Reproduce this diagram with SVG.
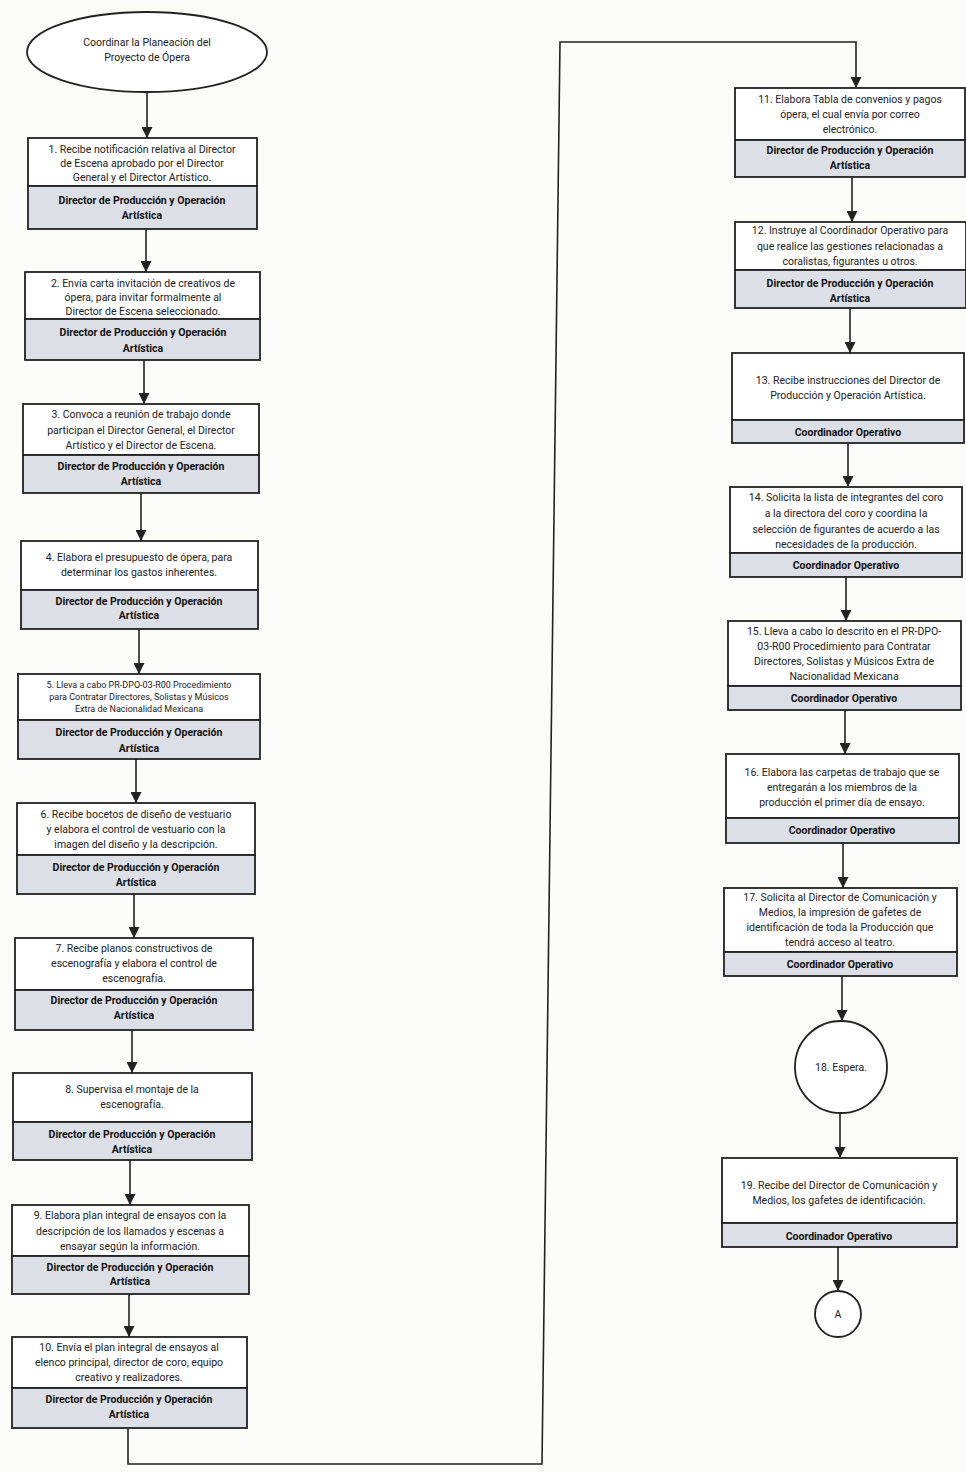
<svg xmlns="http://www.w3.org/2000/svg" width="966" height="1472" viewBox="0 0 966 1472">
<defs>
<marker id="arr" viewBox="0 0 10 10" refX="10" refY="5" markerWidth="12" markerHeight="11" markerUnits="userSpaceOnUse" orient="auto"><path d="M0,0 L10,5 L0,10 z" fill="#222"/></marker>
<style>
.bg{fill:#fbfbfa}
.box{fill:#fff;stroke:#222;stroke-width:1.8}
.role{fill:#dcdfe5;stroke:#222;stroke-width:1.8}
.t{font-family:Roboto,"Liberation Sans",sans-serif;font-size:10.5px;fill:#222;text-anchor:middle}
.b{font-family:Roboto,"Liberation Sans",sans-serif;font-size:10.5px;font-weight:bold;fill:#111;text-anchor:middle}
.c{fill:none;stroke:#222;stroke-width:1.6}
</style>
</defs>
<rect class="bg" x="0" y="0" width="966" height="1472"/>
<g id="connectors">
<path class="c" d="M147,92 V138" marker-end="url(#arr)"/>
<path class="c" d="M146,229 V272" marker-end="url(#arr)"/>
<path class="c" d="M144,360 V404" marker-end="url(#arr)"/>
<path class="c" d="M141,493 V541" marker-end="url(#arr)"/>
<path class="c" d="M139,629 V674" marker-end="url(#arr)"/>
<path class="c" d="M136,759 V803" marker-end="url(#arr)"/>
<path class="c" d="M134,894 V938" marker-end="url(#arr)"/>
<path class="c" d="M132,1030 V1073" marker-end="url(#arr)"/>
<path class="c" d="M130,1160 V1205" marker-end="url(#arr)"/>
<path class="c" d="M129,1294 V1337" marker-end="url(#arr)"/>
<path class="c" d="M128,1428 V1464 H542 L560,42 H856 V88" marker-end="url(#arr)"/>
<path class="c" d="M852,177 V222" marker-end="url(#arr)"/>
<path class="c" d="M850,308 V353" marker-end="url(#arr)"/>
<path class="c" d="M848,443 V487" marker-end="url(#arr)"/>
<path class="c" d="M846,577 V621" marker-end="url(#arr)"/>
<path class="c" d="M845,710 V754" marker-end="url(#arr)"/>
<path class="c" d="M843,843 V888" marker-end="url(#arr)"/>
<path class="c" d="M842,976 V1021" marker-end="url(#arr)"/>
<path class="c" d="M840,1113 V1158" marker-end="url(#arr)"/>
<path class="c" d="M838,1247 V1291" marker-end="url(#arr)"/>
</g>
<g id="start">
<ellipse cx="147" cy="52" rx="120" ry="40" fill="#fff" stroke="#222" stroke-width="1.8"/>
<text class="t" x="147" y="46">Coordinar la Planeación del</text>
<text class="t" x="147" y="61">Proyecto de Ópera</text>
</g>
<g id="n1">
<rect class="box" x="28" y="138" width="229" height="48"/>
<rect class="role" x="28" y="186" width="229" height="43"/>
<text class="t" x="142" y="153">1. Recibe notificación relativa al Director</text>
<text class="t" x="142" y="167">de Escena aprobado por el Director</text>
<text class="t" x="142" y="181">General y el Director Artístico.</text>
<text class="b" x="142" y="204">Director de Producción y Operación</text>
<text class="b" x="142" y="219">Artística</text>
</g>
<g id="n2">
<rect class="box" x="25" y="272" width="235" height="47"/>
<rect class="role" x="25" y="319" width="235" height="41"/>
<text class="t" x="143" y="287">2. Envía carta invitación de creativos de</text>
<text class="t" x="143" y="301">ópera, para invitar formalmente al</text>
<text class="t" x="143" y="315">Director de Escena seleccionado.</text>
<text class="b" x="143" y="336">Director de Producción y Operación</text>
<text class="b" x="143" y="352">Artística</text>
</g>
<g id="n3">
<rect class="box" x="23" y="404" width="236" height="51"/>
<rect class="role" x="23" y="455" width="236" height="38"/>
<text class="t" x="141" y="418">3. Convoca a reunión de trabajo donde</text>
<text class="t" x="141" y="434">participan el Director General, el Director</text>
<text class="t" x="141" y="449">Artístico y el Director de Escena.</text>
<text class="b" x="141" y="470">Director de Producción y Operación</text>
<text class="b" x="141" y="485">Artística</text>
</g>
<g id="n4">
<rect class="box" x="21" y="541" width="237" height="49"/>
<rect class="role" x="21" y="590" width="237" height="39"/>
<text class="t" x="139" y="561">4. Elabora el presupuesto de ópera, para</text>
<text class="t" x="139" y="576">determinar los gastos inherentes.</text>
<text class="b" x="139" y="605">Director de Producción y Operación</text>
<text class="b" x="139" y="619">Artística</text>
</g>
<g id="n5">
<rect class="box" x="18" y="674" width="242" height="46"/>
<rect class="role" x="18" y="720" width="242" height="39"/>
<text class="t" x="139" y="688" style="font-size:9px">5. Lleva a cabo PR-DPO-03-R00 Procedimiento</text>
<text class="t" x="139" y="700" style="font-size:9px">para Contratar Directores, Solistas y Músicos</text>
<text class="t" x="139" y="712" style="font-size:9px">Extra de Nacionalidad Mexicana</text>
<text class="b" x="139" y="736">Director de Producción y Operación</text>
<text class="b" x="139" y="752">Artística</text>
</g>
<g id="n6">
<rect class="box" x="17" y="803" width="238" height="52"/>
<rect class="role" x="17" y="855" width="238" height="39"/>
<text class="t" x="136" y="818">6. Recibe bocetos de diseño de vestuario</text>
<text class="t" x="136" y="833">y elabora el control de vestuario con la</text>
<text class="t" x="136" y="848">imagen del diseño y la descripción.</text>
<text class="b" x="136" y="871">Director de Producción y Operación</text>
<text class="b" x="136" y="886">Artística</text>
</g>
<g id="n7">
<rect class="box" x="15" y="938" width="238" height="52"/>
<rect class="role" x="15" y="990" width="238" height="40"/>
<text class="t" x="134" y="952">7. Recibe planos constructivos de</text>
<text class="t" x="134" y="967">escenografía y elabora el control de</text>
<text class="t" x="134" y="982">escenografía.</text>
<text class="b" x="134" y="1004">Director de Producción y Operación</text>
<text class="b" x="134" y="1019">Artística</text>
</g>
<g id="n8">
<rect class="box" x="13" y="1073" width="239" height="49"/>
<rect class="role" x="13" y="1122" width="239" height="38"/>
<text class="t" x="132" y="1093">8. Supervisa el montaje de la</text>
<text class="t" x="132" y="1108">escenografía.</text>
<text class="b" x="132" y="1138">Director de Producción y Operación</text>
<text class="b" x="132" y="1153">Artística</text>
</g>
<g id="n9">
<rect class="box" x="12" y="1205" width="237" height="51"/>
<rect class="role" x="12" y="1256" width="237" height="38"/>
<text class="t" x="130" y="1219">9. Elabora plan integral de ensayos con la</text>
<text class="t" x="130" y="1235">descripción de los llamados y escenas a</text>
<text class="t" x="130" y="1250">ensayar según la información.</text>
<text class="b" x="130" y="1271">Director de Producción y Operación</text>
<text class="b" x="130" y="1285">Artística</text>
</g>
<g id="n10">
<rect class="box" x="12" y="1337" width="235" height="51"/>
<rect class="role" x="12" y="1388" width="235" height="40"/>
<text class="t" x="129" y="1351">10. Envía el plan integral de ensayos al</text>
<text class="t" x="129" y="1366">elenco principal, director de coro, equipo</text>
<text class="t" x="129" y="1381">creativo y realizadores.</text>
<text class="b" x="129" y="1403">Director de Producción y Operación</text>
<text class="b" x="129" y="1418">Artística</text>
</g>
<g id="n11">
<rect class="box" x="735" y="88" width="230" height="52"/>
<rect class="role" x="735" y="140" width="230" height="37"/>
<text class="t" x="850" y="103">11. Elabora Tabla de convenios y pagos</text>
<text class="t" x="850" y="118">ópera, el cual envía por correo</text>
<text class="t" x="850" y="133">electrónico.</text>
<text class="b" x="850" y="154">Director de Producción y Operación</text>
<text class="b" x="850" y="169">Artística</text>
</g>
<g id="n12">
<rect class="box" x="735" y="222" width="231" height="48"/>
<rect class="role" x="735" y="270" width="231" height="38"/>
<text class="t" x="850" y="234">12. Instruye al Coordinador Operativo para</text>
<text class="t" x="850" y="250">que realice las gestiones relacionadas a</text>
<text class="t" x="850" y="265">coralistas, figurantes u otros.</text>
<text class="b" x="850" y="287">Director de Producción y Operación</text>
<text class="b" x="850" y="302">Artística</text>
</g>
<g id="n13">
<rect class="box" x="732" y="353" width="232" height="67"/>
<rect class="role" x="732" y="420" width="232" height="23"/>
<text class="t" x="848" y="384">13. Recibe instrucciones del Director de</text>
<text class="t" x="848" y="399">Producción y Operación Artística.</text>
<text class="b" x="848" y="436">Coordinador Operativo</text>
</g>
<g id="n14">
<rect class="box" x="730" y="487" width="232" height="66"/>
<rect class="role" x="730" y="553" width="232" height="24"/>
<text class="t" x="846" y="501">14. Solicita la lista de integrantes del coro</text>
<text class="t" x="846" y="517">a la directora del coro y coordina la</text>
<text class="t" x="846" y="533">selección de figurantes de acuerdo a las</text>
<text class="t" x="846" y="548">necesidades de la producción.</text>
<text class="b" x="846" y="569">Coordinador Operativo</text>
</g>
<g id="n15">
<rect class="box" x="728" y="621" width="233" height="65"/>
<rect class="role" x="728" y="686" width="233" height="24"/>
<text class="t" x="844" y="635">15. Lleva a cabo lo descrito en el PR-DPO-</text>
<text class="t" x="844" y="650">03-R00 Procedimiento para Contratar</text>
<text class="t" x="844" y="665">Directores, Solistas y Músicos Extra de</text>
<text class="t" x="844" y="680">Nacionalidad Mexicana</text>
<text class="b" x="844" y="702">Coordinador Operativo</text>
</g>
<g id="n16">
<rect class="box" x="726" y="754" width="233" height="64"/>
<rect class="role" x="726" y="818" width="233" height="25"/>
<text class="t" x="842" y="776">16. Elabora las carpetas de trabajo que se</text>
<text class="t" x="842" y="791">entregarán a los miembros de la</text>
<text class="t" x="842" y="806">producción el primer día de ensayo.</text>
<text class="b" x="842" y="834">Coordinador Operativo</text>
</g>
<g id="n17">
<rect class="box" x="724" y="888" width="233" height="64"/>
<rect class="role" x="724" y="952" width="233" height="24"/>
<text class="t" x="840" y="901">17. Solicita al Director de Comunicación y</text>
<text class="t" x="840" y="916">Medios, la impresión de gafetes de</text>
<text class="t" x="840" y="931">identificación de toda la Producción que</text>
<text class="t" x="840" y="946">tendrá acceso al teatro.</text>
<text class="b" x="840" y="968">Coordinador Operativo</text>
</g>
<g id="n18">
<circle cx="841" cy="1067" r="46" fill="#fff" stroke="#222" stroke-width="1.8"/>
<text class="t" x="841" y="1071">18. Espera.</text>
</g>
<g id="n19">
<rect class="box" x="722" y="1158" width="235" height="65"/>
<rect class="role" x="722" y="1223" width="235" height="24"/>
<text class="t" x="839" y="1189">19. Recibe del Director de Comunicación y</text>
<text class="t" x="839" y="1204">Medios, los gafetes de identificación.</text>
<text class="b" x="839" y="1240">Coordinador Operativo</text>
</g>
<g id="connA">
<circle cx="838" cy="1314" r="23" fill="#fff" stroke="#222" stroke-width="1.8"/>
<text class="t" x="838" y="1318">A</text>
</g>
</svg>
